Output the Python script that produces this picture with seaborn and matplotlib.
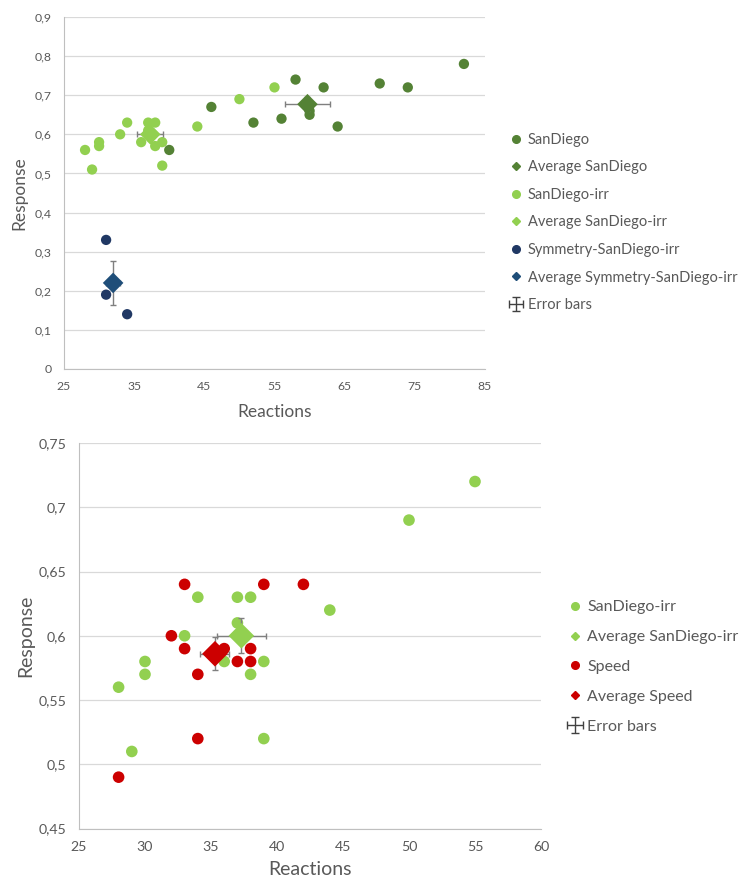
import numpy as np
import pandas as pd
import seaborn as sns
import matplotlib.pyplot as plt
from matplotlib.lines import Line2D
from matplotlib.ticker import FuncFormatter

# Points
sandiego_x = [40, 46, 52, 56, 58, 60, 60, 62, 64, 70, 74, 82]
sandiego_y = [0.56, 0.67, 0.63, 0.64, 0.74, 0.66, 0.65, 0.72, 0.62, 0.73, 0.72, 0.78]

irr_x = [28, 29, 30, 30, 33, 34, 36, 37, 37, 38, 38, 39, 39, 44, 50, 55]
irr_y = [0.56, 0.51, 0.58, 0.57, 0.60, 0.63, 0.58, 0.63, 0.61, 0.63, 0.57, 0.58, 0.52, 0.62, 0.69, 0.72]

sym_x = [31, 31, 34]
sym_y = [0.33, 0.19, 0.14]

speed_x = [28, 32, 33, 33, 34, 34, 36, 37, 38, 38, 39, 42]
speed_y = [0.49, 0.60, 0.64, 0.59, 0.57, 0.52, 0.59, 0.58, 0.59, 0.58, 0.64, 0.64]

# Averages and error bars (as shown)
avg_series = ['SanDiego', 'SanDiego-irr', 'Symmetry-SanDiego-irr', 'Speed']
avg_x = [59.7, 37.3, 32.0, 35.3]
avg_y = [0.677, 0.600, 0.220, 0.586]
err_x = [3.2, 1.85, 1.0, 1.1]
err_y = [0.018, 0.0137, 0.057, 0.013]

colors = {
    'SanDiego': '#548235',
    'SanDiego-irr': '#92D050',
    'Symmetry-SanDiego-irr': '#203864',
    'Speed': '#CC0000',
}
avg_colors = {
    'SanDiego': '#548235',
    'SanDiego-irr': '#92D050',
    'Symmetry-SanDiego-irr': '#1F4E79',
    'Speed': '#CC0000',
}

frames = []
for name, xs, ys in [('SanDiego', sandiego_x, sandiego_y),
                     ('SanDiego-irr', irr_x, irr_y),
                     ('Symmetry-SanDiego-irr', sym_x, sym_y),
                     ('Speed', speed_x, speed_y)]:
    frames.append(pd.DataFrame({'series': name, 'Reactions': xs, 'Response': ys}))
df = pd.concat(frames, ignore_index=True)
avg_df = pd.DataFrame({'series': avg_series, 'x': avg_x, 'y': avg_y, 'ex': err_x, 'ey': err_y})

sns.set_style("white")
plt.rcParams['font.family'] = ['Lato', 'DejaVu Sans']

text_color = '#595959'
grid_color = '#D9D9D9'
err_color = '#7F7F7F'

fig = plt.figure(figsize=(7.46, 8.81), dpi=100)
ax1 = fig.add_axes([0.0858, 0.5812, 0.5643, 0.3995])
ax2 = fig.add_axes([0.1059, 0.0595, 0.6193, 0.4377])

comma = FuncFormatter(lambda v, _: f"{v:g}".replace('.', ','))


def draw(ax, series, pt_size, dia_size):
    sub = df[df['series'].isin(series)]
    sns.scatterplot(data=sub, x='Reactions', y='Response', hue='series',
                    hue_order=series, palette=colors, s=pt_size,
                    edgecolor='none', legend=False, ax=ax, zorder=3)
    handles = []
    for name in series:
        row = avg_df[avg_df['series'] == name].iloc[0]
        ax.errorbar(row['x'], row['y'], xerr=row['ex'], yerr=row['ey'], fmt='none',
                    ecolor=err_color, elinewidth=1.0, capsize=2.5, capthick=1.0, zorder=4)
        ax.scatter(row['x'], row['y'], marker='D', s=dia_size, color=avg_colors[name],
                   edgecolor='none', zorder=5)
        handles.append(Line2D([], [], marker='o', linestyle='none', color=colors[name],
                              markersize=5.5, label=name))
        handles.append(Line2D([], [], marker='D', linestyle='none', color=avg_colors[name],
                              markersize=4.5, label='Average ' + name))
    eb = ax.errorbar([np.nan], [np.nan], xerr=[1], yerr=[1], fmt='none',
                     ecolor='#404040', elinewidth=1.0, capsize=3, label='Error bars')
    handles.append(eb)
    for side in ['top', 'right']:
        ax.spines[side].set_visible(False)
    for side in ['left', 'bottom']:
        ax.spines[side].set_color('#BFBFBF')
    ax.grid(axis='y', color=grid_color, linewidth=0.9)
    ax.set_axisbelow(True)
    ax.tick_params(length=0, colors=text_color)
    ax.xaxis.set_major_formatter(comma)
    ax.yaxis.set_major_formatter(comma)
    return handles


h1 = draw(ax1, ['SanDiego', 'SanDiego-irr', 'Symmetry-SanDiego-irr'], 55, 110)
ax1.set_xlim(25, 85)
ax1.set_ylim(0, 0.9)
ax1.set_xticks(np.arange(25, 86, 10))
ax1.set_yticks(np.arange(0, 0.91, 0.1))
ax1.tick_params(labelsize=8.8, pad=9)
ax1.set_xlabel('Reactions', fontsize=12.5, color=text_color, labelpad=8)
ax1.set_ylabel('Response', fontsize=12.5, color=text_color, labelpad=5)
ax1.legend(handles=h1, loc='upper left', bbox_to_anchor=(0.675, 0.856),
           bbox_transform=fig.transFigure, frameon=False, fontsize=10.5,
           labelcolor=text_color, handlelength=0.9, handletextpad=0.35,
           labelspacing=0.93, borderaxespad=0)

h2 = draw(ax2, ['SanDiego-irr', 'Speed'], 70, 170)
ax2.set_xlim(25, 60)
ax2.set_ylim(0.45, 0.75)
ax2.set_xticks(np.arange(25, 61, 5))
ax2.set_yticks(np.arange(0.45, 0.751, 0.05))
ax2.tick_params(labelsize=10.2, pad=9)
ax2.set_xlabel('Reactions', fontsize=14, color=text_color, labelpad=6)
ax2.set_ylabel('Response', fontsize=14, color=text_color, labelpad=3)
ax2.legend(handles=h2, loc='upper left', bbox_to_anchor=(0.752, 0.326),
           bbox_transform=fig.transFigure, frameon=False, fontsize=11.5,
           labelcolor=text_color, handlelength=0.9, handletextpad=0.35,
           labelspacing=0.98, borderaxespad=0)

fig.savefig('out.png', dpi=100)
